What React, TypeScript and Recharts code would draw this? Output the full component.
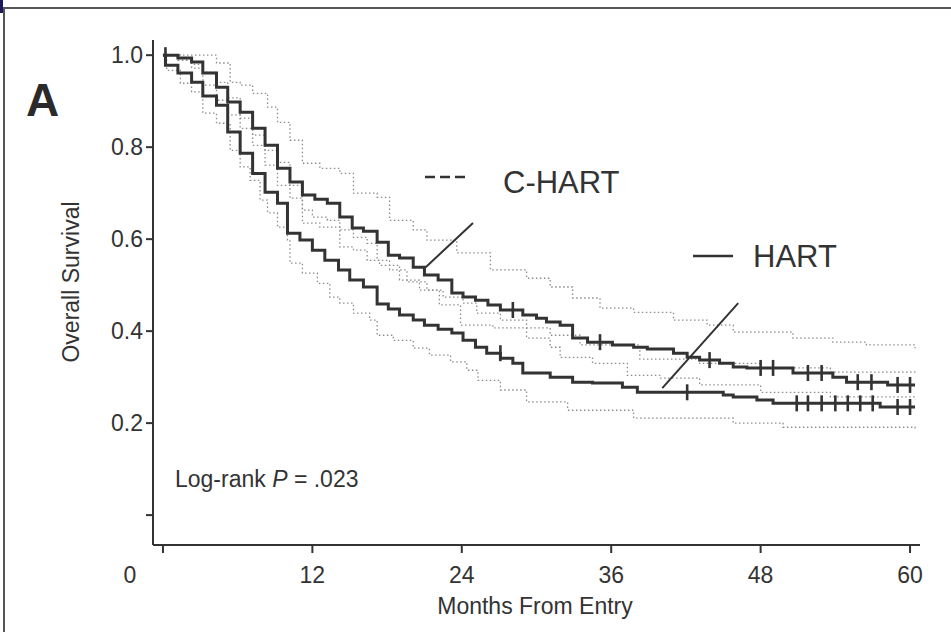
import React from "react";
import {
  ComposedChart,
  Line,
  Scatter,
  XAxis,
  YAxis,
  ReferenceLine,
} from "recharts";

// Kaplan-Meier steps (months, survival)
const cHartTime = [0, 1.2, 2.3, 3.2, 4.3, 5.2, 6.2, 7.2, 8.2, 9.2, 10.2, 11.2, 12.2, 13.2, 14.2, 15.2, 16.1, 17.2, 18.1, 19.0, 20.1, 21.0, 22.1, 23.2, 24.1, 25.1, 26.1, 27.1, 28.9, 30.0, 30.8, 31.9, 32.9, 34.1, 36.1, 37.8, 38.9, 41.0, 42.1, 43.1, 44.7, 45.8, 46.9, 50.6, 53.8, 54.9, 58.2, 60.4];
const cHartSurv = [1.0, 0.994, 0.985, 0.961, 0.93, 0.898, 0.876, 0.841, 0.804, 0.754, 0.724, 0.696, 0.687, 0.678, 0.648, 0.624, 0.617, 0.593, 0.565, 0.559, 0.539, 0.522, 0.511, 0.483, 0.474, 0.467, 0.457, 0.446, 0.435, 0.428, 0.42, 0.413, 0.385, 0.376, 0.37, 0.365, 0.361, 0.352, 0.343, 0.337, 0.33, 0.322, 0.32, 0.309, 0.3, 0.289, 0.283, 0.283];

const hartTime = [0, 0.2, 1.2, 2.3, 3.2, 4.3, 5.2, 6.2, 7.2, 8.2, 9.2, 10.0, 11.0, 12.0, 13.0, 14.1, 15.0, 16.1, 17.2, 18.1, 19.0, 20.1, 21.0, 22.1, 23.2, 24.1, 25.1, 26.0, 27.1, 28.1, 28.9, 31.1, 32.9, 34.5, 36.9, 38.1, 45.0, 45.8, 47.7, 49.0, 57.6, 60.4];
const hartSurv = [1.0, 0.978, 0.961, 0.941, 0.911, 0.891, 0.833, 0.787, 0.743, 0.702, 0.678, 0.613, 0.598, 0.576, 0.554, 0.533, 0.511, 0.496, 0.459, 0.448, 0.435, 0.424, 0.413, 0.404, 0.396, 0.38, 0.365, 0.352, 0.341, 0.33, 0.309, 0.3, 0.289, 0.287, 0.278, 0.267, 0.261, 0.257, 0.25, 0.243, 0.235, 0.235];

// confidence limits (dotted)
const cHartUpTime = [0, 3.0, 4.3, 5.4, 6.2, 7.2, 8.4, 9.2, 10.2, 11.2, 12.6, 14.2, 15.3, 17.2, 18.2, 20.1, 21.2, 23.6, 26.3, 29.2, 31.1, 32.9, 35.1, 37.8, 41.0, 43.7, 45.8, 50.6, 53.8, 56.5, 60.4];
const cHartUpSurv = [1.0, 1.0, 0.983, 0.941, 0.935, 0.917, 0.887, 0.854, 0.815, 0.765, 0.754, 0.743, 0.7, 0.691, 0.641, 0.62, 0.598, 0.57, 0.533, 0.515, 0.496, 0.472, 0.45, 0.441, 0.424, 0.413, 0.398, 0.385, 0.376, 0.37, 0.363];

const cHartLoTime = [0, 1.2, 2.3, 3.2, 4.3, 5.2, 6.2, 7.2, 8.2, 9.2, 10.2, 11.2, 12.6, 14.2, 15.3, 16.4, 17.4, 19.0, 20.6, 22.2, 23.9, 26.5, 29.2, 31.1, 31.9, 34.5, 37.3, 39.9, 43.1, 48.0, 53.6, 60.4];
const cHartLoSurv = [1.0, 0.989, 0.972, 0.935, 0.902, 0.87, 0.841, 0.804, 0.761, 0.717, 0.689, 0.635, 0.626, 0.583, 0.576, 0.554, 0.543, 0.511, 0.489, 0.457, 0.413, 0.407, 0.385, 0.365, 0.343, 0.33, 0.304, 0.298, 0.283, 0.267, 0.257, 0.252];

const hartUpTime = [0, 1.4, 2.3, 3.2, 4.3, 5.2, 6.2, 7.2, 8.2, 9.2, 10.2, 11.2, 12.0, 13.2, 14.2, 15.3, 16.4, 17.2, 18.2, 19.6, 21.2, 22.5, 24.1, 25.2, 27.1, 29.2, 31.1, 33.5, 38.3, 43.1, 48.0, 53.6, 60.4];
const hartUpSurv = [1.0, 0.993, 0.98, 0.963, 0.941, 0.907, 0.863, 0.826, 0.793, 0.767, 0.717, 0.663, 0.648, 0.641, 0.62, 0.604, 0.591, 0.554, 0.533, 0.507, 0.489, 0.474, 0.461, 0.439, 0.424, 0.407, 0.391, 0.37, 0.339, 0.33, 0.32, 0.311, 0.307];

const hartLoTime = [0, 0.3, 1.4, 2.3, 3.2, 4.3, 5.4, 6.2, 7.0, 7.8, 8.4, 9.2, 10.0, 10.2, 11.2, 12.4, 13.4, 14.2, 15.3, 16.6, 17.2, 18.5, 20.1, 21.4, 23.1, 24.4, 25.3, 27.1, 29.2, 32.5, 37.8, 45.8, 49.8, 60.4];
const hartLoSurv = [1.0, 0.967, 0.939, 0.92, 0.874, 0.852, 0.793, 0.757, 0.728, 0.685, 0.657, 0.626, 0.598, 0.548, 0.526, 0.504, 0.474, 0.461, 0.439, 0.424, 0.391, 0.38, 0.363, 0.348, 0.333, 0.315, 0.293, 0.272, 0.246, 0.228, 0.211, 0.2, 0.191, 0.185];

// censored observations
const cHartCensorTime = [0.2, 28.1, 35.1, 43.9, 48.0, 49.0, 51.8, 52.9, 55.8, 56.9, 59.0, 60.0];
const cHartCensorSurv = [1.0, 0.446, 0.376, 0.337, 0.32, 0.32, 0.309, 0.309, 0.289, 0.289, 0.283, 0.283];
const hartCensorTime = [27.1, 42.1, 50.9, 51.8, 52.9, 54.0, 55.0, 56.0, 57.0, 59.0, 60.0];
const hartCensorSurv = [0.352, 0.267, 0.243, 0.243, 0.243, 0.243, 0.243, 0.243, 0.243, 0.235, 0.235];

const xTicks = [0, 12, 24, 36, 48, 60];
const yTicks = [0, 0.2, 0.4, 0.6, 0.8, 1.0];

const zip = (t: number[], s: number[]) => t.map((m, i) => ({ m, s: s[i] }));

const INK = "#333";
const FONT = "'Liberation Sans', Arial, Helvetica, sans-serif";

const XTick = (props: any) => {
  const { x, y, payload } = props;
  return (
    <text x={payload.value === 0 ? x - 33 : x} y={y} dy="0.71em" textAnchor="middle" fontSize={23} fill={INK} fontFamily={FONT}>
      {payload.value}
    </text>
  );
};

const Censor = (props: any) => {
  const { cx, cy } = props;
  return <line x1={cx} x2={cx} y1={cy - 8} y2={cy + 8} stroke={INK} strokeWidth={2.6} />;
};

export default function App() {
  const ci = { stroke: "#8c8c8c", strokeWidth: 1.3, strokeDasharray: "1.5 2.5", dot: false, isAnimationActive: false, type: "stepAfter" as const };
  return (
    <div style={{ position: "relative", width: 951, height: 632, background: "#fff", overflow: "hidden" }}>
      <style>{"body{margin:0}"}</style>
      <div style={{ position: "absolute", left: 3, top: 7, width: 960, height: 640, borderTop: "2px solid #555", borderLeft: "2px solid #555" }} />
      <div style={{ position: "absolute", left: 0, top: 0, width: 3, height: 13, background: "#1a1a5a" }} />
      <ComposedChart width={951} height={632} margin={{ top: 40, right: 31, bottom: 27, left: 93 }}>
        <XAxis
          type="number"
          dataKey="m"
          domain={[-0.8, 60.8]}
          ticks={xTicks}
          allowDataOverflow
          height={60}
          tickSize={8}
          tickMargin={14}
          stroke={INK}
          strokeWidth={2}
          tick={<XTick />}
        />
        <YAxis
          type="number"
          dataKey="s"
          domain={[-0.065, 1.033]}
          ticks={yTicks}
          allowDataOverflow
          width={60}
          tickSize={7}
          tickMargin={3}
          stroke={INK}
          strokeWidth={2}
          tickFormatter={(v: number) => (v === 0 ? "" : v.toFixed(1))}
          tick={{ fontSize: 23, fill: INK, fontFamily: FONT }}
        />
        <Line data={zip(cHartUpTime, cHartUpSurv)} dataKey="s" {...ci} />
        <Line data={zip(cHartLoTime, cHartLoSurv)} dataKey="s" {...ci} />
        <Line data={zip(hartUpTime, hartUpSurv)} dataKey="s" {...ci} />
        <Line data={zip(hartLoTime, hartLoSurv)} dataKey="s" {...ci} />
        <Line data={zip(cHartTime, cHartSurv)} dataKey="s" type="stepAfter" stroke={INK} strokeWidth={3} dot={false} isAnimationActive={false} />
        <Line data={zip(hartTime, hartSurv)} dataKey="s" type="stepAfter" stroke={INK} strokeWidth={3} dot={false} isAnimationActive={false} />
        <Scatter data={zip(cHartCensorTime, cHartCensorSurv)} dataKey="s" shape={<Censor />} isAnimationActive={false} />
        <Scatter data={zip(hartCensorTime, hartCensorSurv)} dataKey="s" shape={<Censor />} isAnimationActive={false} />
        <ReferenceLine segment={[{ x: 21.1, y: 0.539 }, { x: 24.9, y: 0.635 }]} stroke={INK} strokeWidth={2} ifOverflow="visible" />
        <ReferenceLine segment={[{ x: 40.1, y: 0.276 }, { x: 46.2, y: 0.461 }]} stroke={INK} strokeWidth={2} ifOverflow="visible" />
      </ComposedChart>
      <svg width={951} height={632} style={{ position: "absolute", left: 0, top: 0, pointerEvents: "none" }} fontFamily={FONT}>
        <text x={26} y={116} fontSize={46} fontWeight="bold" fill="#2a2a2a">A</text>
        <line x1={425} x2={465} y1={177} y2={177} stroke={INK} strokeWidth={2.5} strokeDasharray="10 5" />
        <text x={503} y={193} fontSize={31} fill={INK}>C-HART</text>
        <line x1={693} x2={733} y1={256} y2={256} stroke={INK} strokeWidth={2.5} />
        <text x={753} y={267} fontSize={31} fill={INK}>HART</text>
        <text x={175} y={487} fontSize={23} fill={INK}>
          Log-rank <tspan fontStyle="italic">P</tspan> = .023
        </text>
        <text x={535} y={614} fontSize={23} fill={INK} textAnchor="middle">Months From Entry</text>
        <text x={79} y={282} fontSize={23} fill={INK} textAnchor="middle" transform="rotate(-90 79 282)">Overall Survival</text>
      </svg>
    </div>
  );
}
